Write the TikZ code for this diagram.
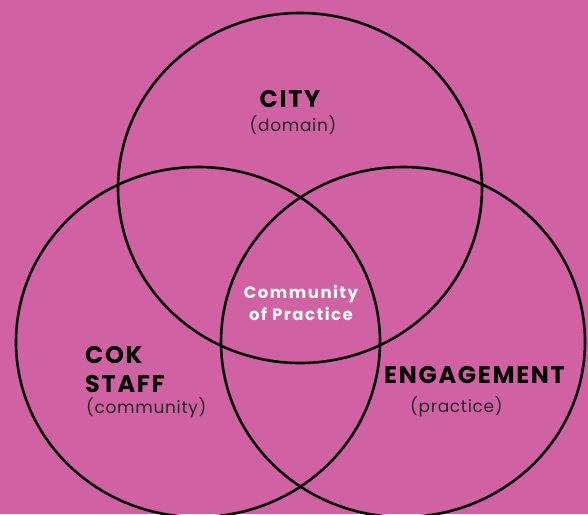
\documentclass[tikz,border=0pt]{standalone}
\usepackage{fontspec}
\setmainfont{Poppins}
\newfontfamily\wide[LetterSpace=7]{Poppins}
\newfontfamily\wider[LetterSpace=9]{Poppins}
\newfontfamily\loose[LetterSpace=4]{Poppins}
\usetikzlibrary{shapes.geometric, positioning}
\definecolor{orchid}{RGB}{208,98,164}
\def\bg{orchid}
\tikzstyle{ring} = [ellipse, draw=black, line width=2.6pt, minimum width=364pt, minimum height=350pt, inner sep=0pt]
\tikzstyle{head} = [inner sep=0pt, font=\wide\fontsize{24}{26}\selectfont\bfseries, text=black]
\tikzstyle{sub} = [inner sep=0pt, font=\loose\fontsize{17}{19}\selectfont, text=black!85]
\tikzstyle{core} = [inner sep=0pt, font=\wider\fontsize{16.5}{22}\selectfont\bfseries, text=white, align=center]

\begin{document}
\begin{tikzpicture}[x=1pt,y=-1pt]

  \fill [\bg] (0,0) rectangle (588,514);
  \useasboundingbox (0,0) rectangle (588,514);

  \node (domain) [ring] at (300,188) {};
  \node (community) [ring] at (198,342) {};
  \node (practice) [ring] at (403,342) {};

  \node (city) [head, anchor=base] at (290,107) {CITY};
  \node (citysub) [sub, anchor=base] at (293,131) {(domain)};

  \node (cok) [head, anchor=base west] at (85,363) {COK};
  \node (staff) [head, anchor=base west] at (85,392) {STAFF};
  \node (cokssub) [sub, anchor=base west] at (86,413) {(community)};

  \node (engage) [head, anchor=base west] at (384,383) {ENGAGEMENT};
  \node (engagesub) [sub, anchor=base west] at (410,412) {(practice)};

  \node (cop) [core] at (301,303) {Community\\of Practice};

\end{tikzpicture}
\end{document}
